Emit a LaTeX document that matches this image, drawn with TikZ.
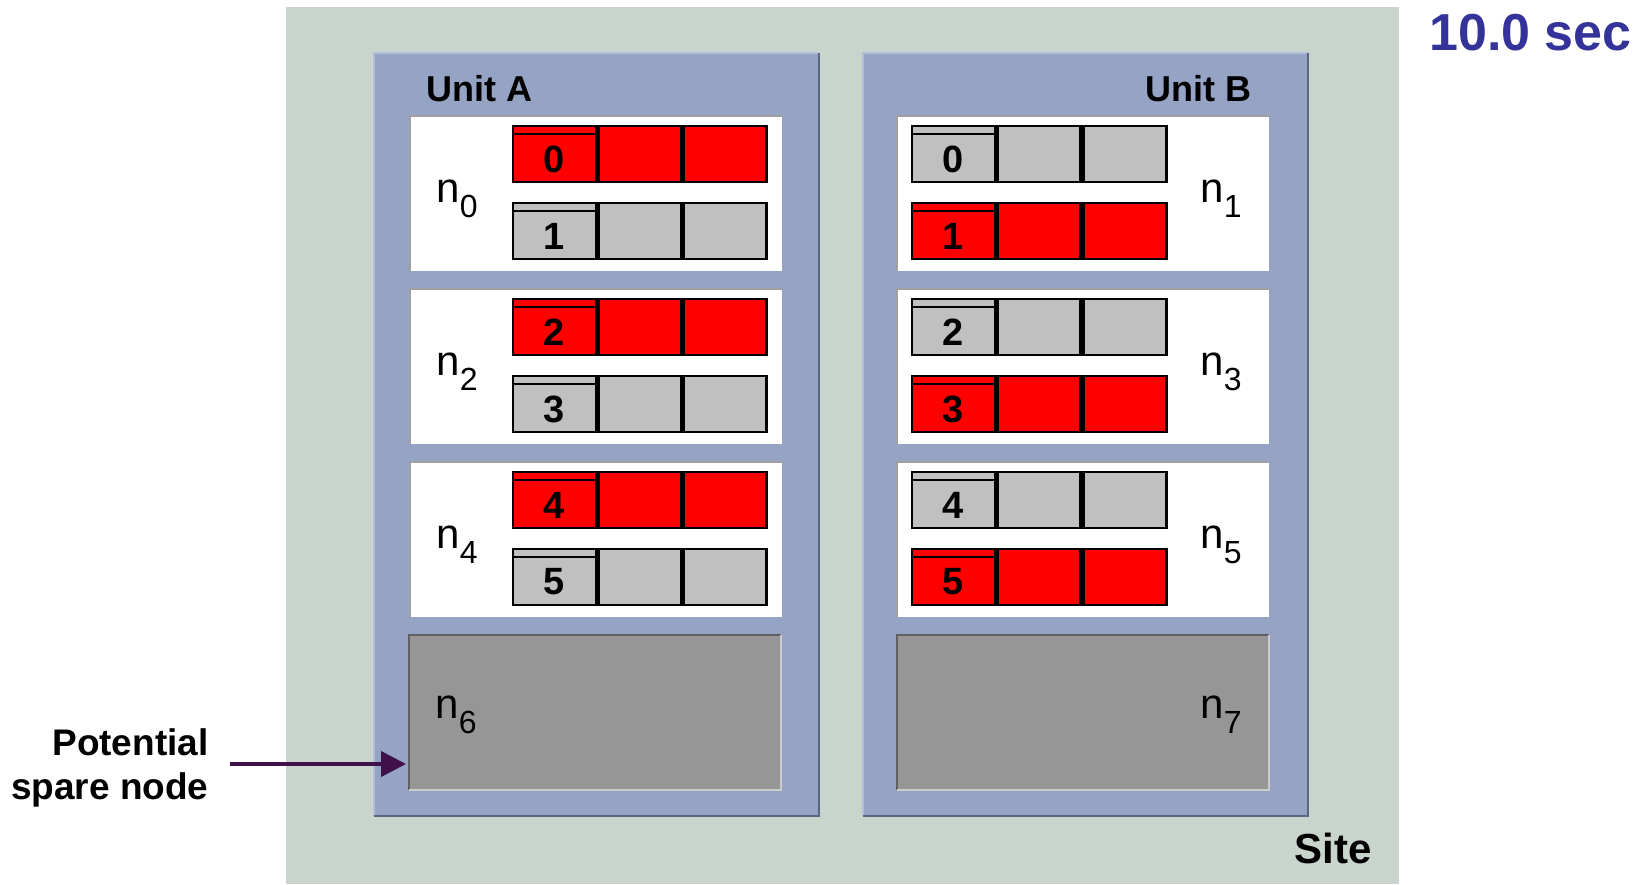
\documentclass[tikz,border=0pt]{standalone}
\usepackage{fontspec}
\setmainfont{Liberation Sans}
\usetikzlibrary{positioning, arrows.meta, calc}

\definecolor{sitegreen}{RGB}{201,212,204}
\definecolor{unitblue}{RGB}{149,163,196}
\definecolor{unitlight}{RGB}{178,190,215}
\definecolor{unitdark}{RGB}{92,102,128}
\definecolor{busyred}{RGB}{255,0,0}
\definecolor{idlegray}{RGB}{192,192,192}
\definecolor{sparegray}{RGB}{150,150,150}
\definecolor{insetgray}{RGB}{160,160,160}
\definecolor{sparedark}{RGB}{96,96,96}
\definecolor{sparelight}{RGB}{204,204,204}
\definecolor{timeblue}{RGB}{51,51,153}
\definecolor{arrowpurple}{RGB}{64,16,72}

\newcommand{\nsub}[1]{\raisebox{-7.5pt}{\fontsize{16pt}{16pt}\selectfont #1}}

\begin{document}
\begin{tikzpicture}[
    x=0.5pt, y=-0.5pt,
    panel/.style={anchor=north west, inner sep=0pt, outer sep=0pt},
    sitebox/.style={panel, fill=sitegreen, minimum width=556.5pt, minimum height=438.5pt},
    unitbox/.style={panel, fill=unitblue, minimum width=222.5pt, minimum height=381.5pt},
    nodebox/.style={panel, fill=white, minimum width=186pt, minimum height=77.5pt},
    sparebox/.style={nodebox, fill=sparegray},
    cell/.style={panel, draw=black, line width=1.3pt, minimum width=41.5pt, minimum height=28pt},
    busy/.style={cell, fill=busyred},
    idle/.style={cell, fill=idlegray},
    stripe/.style={black, line width=1.1pt},
    procnum/.style={font=\bfseries\fontsize{19pt}{19pt}\selectfont, inner sep=0pt},
    nlabel/.style={anchor=base west, inner sep=0pt, font=\fontsize{21pt}{21pt}\selectfont},
    unitname/.style={inner sep=0pt, font=\bfseries\fontsize{18pt}{18pt}\selectfont},
    callout/.style={inner sep=0pt, align=right, font=\bfseries\fontsize{18.5pt}{22pt}\selectfont},
    sparearrow/.style={-{Triangle[length=12.5pt, width=12.5pt]}, line width=2pt, draw=arrowpurple},
]
\useasboundingbox (0,0) rectangle (1644,884);

% Site
\node[sitebox] (site) at (286,7) {};
\node[unitname, anchor=base east, font=\bfseries\fontsize{21pt}{21pt}\selectfont] (sitename) at (1372,863) {Site};

% Units
\node[unitbox] (unitA) at (374,53) {};
\node[unitbox] (unitB) at (863,53) {};
\foreach \u in {unitA, unitB}{
  \draw[unitlight, line width=1.2pt] (\u.south west) -- (\u.north west) -- (\u.north east);
  \draw[unitdark, line width=1.2pt] (\u.north east) -- (\u.south east) -- (\u.south west);
}
\node[unitname, anchor=base west] (nameA) at (426,101) {Unit A};
\node[unitname, anchor=base east] (nameB) at (1252,101) {Unit B};

% Compute nodes
\foreach \r in {0,1,2}{
  \pgfmathtruncatemacro{\ev}{2*\r}
  \pgfmathtruncatemacro{\od}{2*\r+1}
  \node[nodebox] (node\ev) at (410,{116+173*\r}) {};
  \node[nodebox] (node\od) at (897,{116+173*\r}) {};
  \foreach \k in {\ev, \od}
    \draw[insetgray, line width=1pt] (node\k.south west) -- (node\k.north west) -- (node\k.north east);
  % process rows, the busy copy is red
  \foreach \c in {0,1,2}{
    \node[busy] (a\ev-\c) at ($(node\ev.north west)+({103+85.3*\c},10)$) {};
    \node[idle] (a\od-\c) at ($(node\ev.north west)+({103+85.3*\c},87)$) {};
    \node[idle] (b\ev-\c) at ($(node\od.north west)+({15+85.6*\c},10)$) {};
    \node[busy] (b\od-\c) at ($(node\od.north west)+({15+85.6*\c},87)$) {};
  }
  \foreach \s/\p in {a/\ev, a/\od, b/\ev, b/\od}{
    \draw[stripe] ($(\s\p-0.north west)+(0,8)$) -- ($(\s\p-0.north east)+(0,8)$);
    \node[procnum] (num\s\p) at ($(\s\p-0.center)+(0,5)$) {\p};
  }
  \node[nlabel] (lab\ev) at (436,{202+173*\r}) {n\nsub{\ev}};
  \node[nlabel] (lab\od) at (1200,{202+173*\r}) {n\nsub{\od}};
}

% Spare nodes
\node[sparebox] (node6) at (409,635) {};
\node[sparebox] (node7) at (897,635) {};
\foreach \k in {6,7}{
  \draw[sparedark, line width=1pt] (node\k.south west) -- (node\k.north west) -- (node\k.north east);
  \draw[sparelight, line width=1pt] (node\k.north east) -- (node\k.south east) -- (node\k.south west);
}
\node[nlabel] (lab6) at (435,718) {n\nsub{6}};
\node[nlabel] (lab7) at (1200,718) {n\nsub{7}};

% Spare pointer
\coordinate (sparetail) at (230,764);
\draw[sparearrow, shorten >=1.5pt] (sparetail) -- (sparetail -| node6.west);
\node[callout, anchor=east] (sparetext) at (209,768) {Potential\\spare node};

% Clock
\node[inner sep=0pt, anchor=base east, text=timeblue, font=\bfseries\fontsize{26pt}{26pt}\selectfont] (clock) at (1632,50) {10.0 sec};

\end{tikzpicture}
\end{document}
